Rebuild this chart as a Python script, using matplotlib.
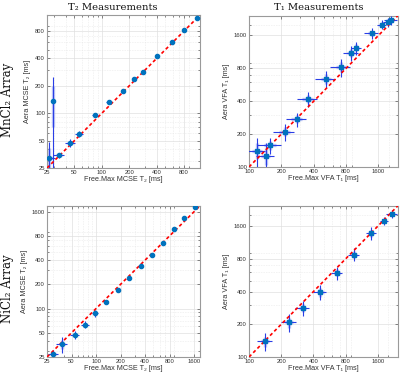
import numpy as np
import matplotlib
matplotlib.use("Agg")
import matplotlib.pyplot as plt
from matplotlib.ticker import FixedLocator, NullFormatter, LogLocator

# ---- data (ms) ----
# T2, MnCl2 array
t2_mn_free = [26.3, 29.3, 33.9, 45, 56.7, 85, 119, 169, 226, 284, 402, 590, 794, 1109]
t2_mn_aera = [31.9, 135, 34.6, 47.2, 59.6, 95, 132, 177, 236, 284, 421, 607, 826, 1118]
t2_mn_xerr = [4.5, 1.0, 4.8, 6, 6, 7, 9, 5, 6, 6, 8, 10, 12, 14]
t2_mn_yerr = [17, 117, 2, 5, 4.5, 5, 7, 5, 6, 6, 8, 10, 12, 14]

# T1, MnCl2 array
t1_mn_free = [119, 143, 158, 216, 278, 354, 524, 721, 887, 999, 1385, 1713, 1944, 2074]
t1_mn_aera = [141, 127, 158, 210, 274, 419, 643, 823, 1110, 1233, 1670, 2013, 2110, 2200]
t1_mn_xerr = [23, 26, 39, 48, 58, 74, 110, 151, 142, 111, 204, 151, 171, 280]
t1_mn_yerr = [43, 40, 28, 36, 40, 67, 118, 151, 178, 166, 185, 200, 186, 220]

# T2, NiCl2 array
t2_ni_free = [29.9, 38.3, 54.6, 73.7, 98, 132, 188, 255, 351, 489, 658, 909, 1207, 1620]
t2_ni_aera = [27.0, 35.8, 46.8, 63.3, 87, 120, 172, 238, 335, 466, 650, 973, 1326, 1808]
t2_ni_xerr = [4.5, 5.7, 6.5, 8.5, 8.5, 8, 8, 8, 10, 12, 15, 18, 22, 25]
t2_ni_yerr = [3.7, 8, 5.5, 6, 7.5, 7, 7, 8, 10, 12, 15, 18, 22, 25]

# T1, NiCl2 array
t1_ni_free = [142, 238, 316, 462, 661, 951, 1385, 1815, 2163]
t1_ni_aera = [139, 208, 282, 394, 596, 875, 1372, 1775, 2067]
t1_ni_xerr = [22, 38, 47, 63, 74, 106, 155, 160, 242]
t1_ni_yerr = [26, 40, 45, 63, 82, 120, 188, 156, 182]

t2_ticks = [25, 50, 100, 200, 400, 800, 1600]
t1_ticks = [100, 200, 400, 800, 1600]

SANS = ["Liberation Sans", "DejaVu Sans"]
SERIF = ["DejaVu Serif"]
MARK = "#0072BD"
BAR = "#2a3ee6"
BAND = "#8c9cf2"


def panel(ax, x, y, xerr, yerr, lims, ticks, marker, xlab, ylab):
    x = np.array(x); y = np.array(y)
    xerr = np.array(xerr); yerr = np.array(yerr)
    ax.set_xscale("log")
    ax.set_yscale("log")
    # light, thick inner band + thin full bar
    ax.errorbar(x, y, xerr=xerr * 0.55, yerr=yerr * 0.55, fmt="none",
                ecolor=BAND, elinewidth=2.4, alpha=0.55, capsize=0, zorder=2)
    ax.errorbar(x, y, xerr=xerr, yerr=yerr, fmt="none",
                ecolor=BAR, elinewidth=0.8, capsize=0, zorder=3)
    ax.plot(lims, lims, color="red", ls=(0, (2, 1.6)), lw=1.2, zorder=4)
    ax.plot(x, y, ls="none", marker=marker, ms=3.0, color=MARK, mec=MARK, zorder=5)

    ax.set_xlim(lims)
    ax.set_ylim(lims)
    for axis in (ax.xaxis, ax.yaxis):
        axis.set_major_locator(FixedLocator(ticks))
        axis.set_minor_locator(LogLocator(base=10, subs=np.arange(2, 10)))
        axis.set_minor_formatter(NullFormatter())
    ax.set_xticklabels([str(t) for t in ticks])
    ax.set_yticklabels([str(t) for t in ticks])
    ax.grid(True, which="major", color="#e0e0e0", lw=0.5, ls="-")
    ax.grid(True, which="minor", color="#e2e2e2", lw=0.45, ls=":")
    ax.set_axisbelow(True)
    ax.tick_params(which="both", direction="in", top=True, right=True,
                   colors="#555555", labelcolor="#333333", labelsize=4.2,
                   width=0.5, pad=1.5)
    ax.tick_params(which="major", length=2.2)
    ax.tick_params(which="minor", length=1.2)
    for lab in ax.get_xticklabels() + ax.get_yticklabels():
        lab.set_family(SANS)
    for s in ax.spines.values():
        s.set_color("#9a9a9a")
        s.set_linewidth(0.8)
    ax.set_xlabel(xlab, fontsize=5.2, family=SANS, color="#333333", labelpad=0.5)
    ax.set_ylabel(ylab, fontsize=5.2, family=SANS, color="#333333", labelpad=3)


fig = plt.figure(figsize=(4.0, 3.76), dpi=100)

axA = fig.add_axes([0.1175, 0.553, 0.3825, 0.407])
panel(axA, t2_mn_free, t2_mn_aera, t2_mn_xerr, t2_mn_yerr, (25, 1200), t2_ticks[:-1],
      "o", "Free.Max MCSE T₂ [ms]", "Aera MCSE T₂ [ms]")

axB = fig.add_axes([0.6225, 0.556, 0.372, 0.402])
panel(axB, t1_mn_free, t1_mn_aera, t1_mn_xerr, t1_mn_yerr, (100, 2420), t1_ticks,
      "s", "Free.Max VFA T₁ [ms]", "Aera VFA T₁ [ms]")

axC = fig.add_axes([0.1175, 0.0505, 0.3825, 0.402])
panel(axC, t2_ni_free, t2_ni_aera, t2_ni_xerr, t2_ni_yerr, (25, 1880), t2_ticks,
      "o", "Free.Max MCSE T₂ [ms]", "Aera MCSE T₂ [ms]")

axD = fig.add_axes([0.6225, 0.0505, 0.372, 0.402])
panel(axD, t1_ni_free, t1_ni_aera, t1_ni_xerr, t1_ni_yerr, (100, 2450), t1_ticks,
      "s", "Free.Max VFA T₁ [ms]", "Aera VFA T₁ [ms]")

# column titles and row labels
fig.text(113 / 400, 1 - 7 / 376, "T₂ Measurements", family=SERIF,
         fontsize=7.2, ha="center", va="center", color="#111111")
fig.text(319 / 400, 1 - 7 / 376, "T₁ Measurements", family=SERIF,
         fontsize=7.2, ha="center", va="center", color="#111111")
fig.text(8 / 400, 1 - 100 / 376, "MnCl₂ Array", family=SERIF, fontsize=8.5,
         rotation=90, ha="center", va="center", color="#111111")
fig.text(8 / 400, 1 - 289 / 376, "NiCl₂ Array", family=SERIF, fontsize=8.5,
         rotation=90, ha="center", va="center", color="#111111")

fig.savefig("out.png", dpi=100)
